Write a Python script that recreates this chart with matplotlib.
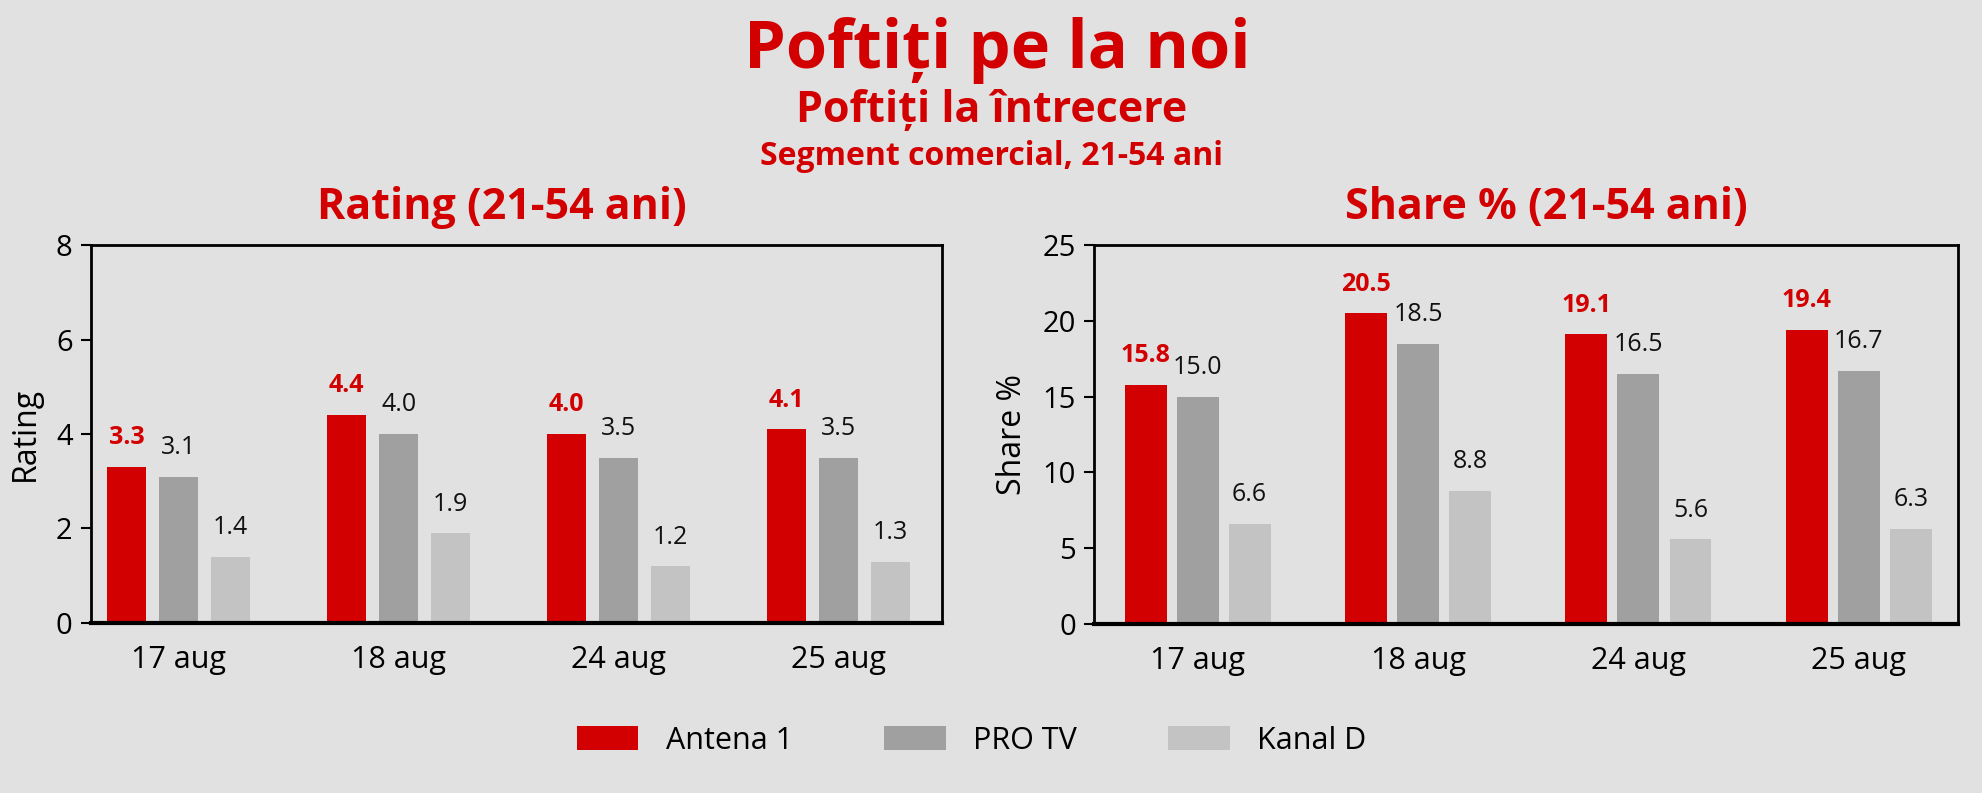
import matplotlib.pyplot as plt
import numpy as np

# data
days = ['17 aug', '18 aug', '24 aug', '25 aug']
channels = ['Antena 1', 'PRO TV', 'Kanal D']
rating = {
    'Antena 1': [3.3, 4.4, 4.0, 4.1],
    'PRO TV': [3.1, 4.0, 3.5, 3.5],
    'Kanal D': [1.4, 1.9, 1.2, 1.3],
}
share = {
    'Antena 1': [15.8, 20.5, 19.1, 19.4],
    'PRO TV': [15.0, 18.5, 16.5, 16.7],
    'Kanal D': [6.6, 8.8, 5.6, 6.3],
}

RED = '#d20000'
colors = {'Antena 1': RED, 'PRO TV': '#a0a0a0', 'Kanal D': '#c3c3c3'}
BG = '#e1e1e1'

plt.rcParams['font.family'] = ['Open Sans', 'DejaVu Sans']

fig = plt.figure(figsize=(19.83, 7.93), dpi=100, facecolor=BG)

def draw(ax, data, ymax, step, ylabel, xlim, width, off):
    x = np.arange(len(days))
    for i, ch in enumerate(channels):
        xs = x + (i - 1) * off
        bars = ax.bar(xs, data[ch], width, color=colors[ch], label=ch)
        for b, v in zip(bars, data[ch]):
            if ch == 'Antena 1':
                ax.annotate(f'{v:.1f}', (b.get_x() + b.get_width() / 2, v),
                            xytext=(0, 12), textcoords='offset points',
                            ha='center', va='bottom', fontsize=18,
                            color=RED, fontweight='bold')
            else:
                ax.annotate(f'{v:.1f}', (b.get_x() + b.get_width() / 2, v),
                            xytext=(0, 12), textcoords='offset points',
                            ha='center', va='bottom', fontsize=18,
                            color='#111111')
    ax.set_facecolor(BG)
    ax.set_ylim(0, ymax)
    ax.set_yticks(np.arange(0, ymax + 0.01, step))
    ax.set_xlim(*xlim)
    ax.set_xticks(x)
    ax.set_xticklabels(days)
    ax.tick_params(axis='x', length=0, labelsize=22, pad=16)
    ax.tick_params(axis='y', length=7, width=1.5, labelsize=21, pad=6)
    ax.set_ylabel(ylabel, fontsize=23, labelpad=10)
    for s in ax.spines.values():
        s.set_linewidth(2)
        s.set_color('black')
    ax.spines['bottom'].set_linewidth(3)

ax1 = fig.add_axes([0.0457, 0.2144, 0.4293, 0.4766])
draw(ax1, rating, 8, 2, 'Rating', (-0.40, 3.47), 0.18, 0.236)

ax2 = fig.add_axes([0.5517, 0.213, 0.4357, 0.478])
draw(ax2, share, 25, 5, 'Share %', (-0.47, 3.45), 0.19, 0.236)

# titles
fig.text(0.503, 0.914, 'Poftiți pe la noi', ha='center', va='baseline',
         fontsize=48, fontweight='bold', color=RED)
fig.text(0.5, 0.846, 'Poftiți la întrecere', ha='center', va='baseline',
         fontsize=31, fontweight='bold', color=RED)
fig.text(0.5, 0.792, 'Segment comercial, 21-54 ani', ha='center', va='baseline',
         fontsize=23, fontweight='bold', color=RED)
fig.text(0.253, 0.7238, 'Rating (21-54 ani)', ha='center', va='baseline',
         fontsize=31, fontweight='bold', color=RED)
fig.text(0.78, 0.7238, 'Share % (21-54 ani)', ha='center', va='baseline',
         fontsize=31, fontweight='bold', color=RED)

h, l = ax1.get_legend_handles_labels()
fig.legend(h, l, loc='center', bbox_to_anchor=(0.49, 0.066), ncol=3,
           frameon=False, fontsize=22, handlelength=2.0, handleheight=0.85,
           handletextpad=0.9, columnspacing=3.0)

fig.savefig('out.png', dpi=100, facecolor=BG)
